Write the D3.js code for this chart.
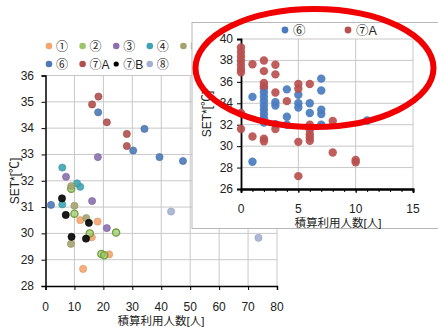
<!DOCTYPE html>
<html>
<head>
<meta charset="utf-8">
<script src="https://cdn.jsdelivr.net/npm/d3@7"></script>
<style>
  html, body { margin: 0; padding: 0; background: #fff; }
  svg { display: block; font-family: "Liberation Sans", Arial, "Noto Sans CJK JP", sans-serif; }
  .grid line { stroke: #c8c8c8; stroke-width: 1px; }
  .axis path, .axis line { stroke: #000; }
  .tick-label { font-size: 12px; fill: #222; }
</style>
</head>
<body>
<div id="chart"></div>
<script>
// --- data: main chart (全体) ---
const seriesNames = ["①", "②", "③", "④", "⑤", "⑥", "⑦A", "⑦B", "⑧"];
const seriesColors = ["#f4a56e", "#9cc46a", "#8a70ae", "#3fa3b3", "#a3a36e", "#4d79b7", "#b0504e", "#000000", "#a3b0d2"];

const pts1 = [[12, 30.5], [18, 30.45], [16, 29.85], [22, 29.2], [13, 28.65]];
const pts2 = [[10, 30.75], [24.4, 30.03], [15.3, 30.0], [19.3, 29.22], [20.3, 29.17], [8.9, 31.7]];
const pts3 = [[18.1, 32.9], [7.1, 32.15], [16.1, 31.23], [21.2, 30.2]];
const pts4 = [[5.8, 32.5], [5.8, 31.1], [12, 31.77], [10.9, 31.9]];
const pts5 = [[8.9, 31.8], [10, 31.05], [14.1, 30.58], [8.8, 29.6]];
const pts6 = [[18.2, 34.6], [34.2, 33.97], [30.3, 33.15], [39.4, 32.9], [47.5, 32.75], [1.9, 31.08]];
const pts7A = [[18.3, 35.2], [16.1, 34.9], [21.2, 34.22], [28.1, 33.78], [28.1, 33.32]];
const pts7B = [[5.7, 31.33], [7, 30.7], [15, 30.4], [9, 29.87], [14, 29.8]];
const pts8 = [[43.4, 30.83], [73.6, 29.83]];
const allSeries = [pts1, pts2, pts3, pts4, pts5, pts6, pts7A, pts7B, pts8];

const xTicksMain = [0, 10, 20, 30, 40, 50, 60, 70, 80];
const yTicksMain = [28, 29, 30, 31, 32, 33, 34, 35, 36];

// --- data: inset (⑥ と ⑦A) ---
const insetNames = ["⑥", "⑦A"];
const inset6 = [
  [1, 34.6], [1, 28.55],
  [2, 35.4], [2, 35.0], [2, 34.6], [2, 34.2], [2, 33.8], [2, 33.4], [2, 33.0], [2, 32.6], [2, 32.2],
  [3, 34.1], [3, 33.8], [3, 32.05],
  [4, 35.3], [4, 32.75], [4, 32.0],
  [5, 34.8], [5, 34.0], [5, 33.6],
  [6, 34.0], [6, 33.1],
  [7, 36.3], [7, 35.2], [7, 33.4], [7, 33.0], [7, 32.0],
  [11, 32.4]
];
const inset7A = [
  [0, 39.2], [0, 38.8], [0, 38.4], [0, 38.0], [0, 37.6], [0, 37.2], [0, 36.9], [0, 33.1], [0, 31.6],
  [1, 37.65], [1, 30.9],
  [2, 38.0], [2, 37.0], [2, 35.9], [2, 35.6], [2, 30.7], [2, 30.45],
  [3, 37.6], [3, 36.7], [3, 35.0], [3, 31.6],
  [4, 34.2],
  [5, 35.8], [5, 35.35], [5, 30.4], [5, 27.2],
  [6, 35.8], [6, 32.0], [6, 31.5], [6, 31.1], [6, 30.8], [6, 30.5],
  [8, 32.35], [8, 29.4],
  [10, 28.7], [10, 28.5]
];
const insetColors = ["#4a7cbf", "#b9504f"];
const xTicksInset = [0, 5, 10, 15];
const yTicksInset = [26, 28, 30, 32, 34, 36, 38, 40];

const W = 438, H = 327;
const svg = d3.select("#chart").append("svg").attr("width", W).attr("height", H);

// ---------- main chart ----------
const x = d3.scaleLinear().domain([0, 80]).range([45.5, 277]);
const y = d3.scaleLinear().domain([28, 36]).range([286, 75.5]);

const gMain = svg.append("g");
const grid = gMain.append("g").attr("class", "grid");
grid.selectAll(".gx").data(xTicksMain.slice(1)).enter().append("line")
  .attr("x1", d => x(d)).attr("x2", d => x(d)).attr("y1", y(28)).attr("y2", y(36));
grid.selectAll(".gy").data(yTicksMain.slice(1)).enter().append("line")
  .attr("x1", x(0)).attr("x2", x(80)).attr("y1", d => y(d)).attr("y2", d => y(d));

gMain.append("g").attr("class", "axis")
  .attr("transform", `translate(0,${y(28)})`)
  .call(d3.axisBottom(x).tickValues(xTicksMain).tickSize(4).tickFormat(""));
gMain.append("g").attr("class", "axis")
  .attr("transform", `translate(${x(0)},0)`)
  .call(d3.axisLeft(y).tickValues(yTicksMain).tickSize(4).tickFormat(""));
gMain.selectAll(".axis path").attr("stroke-width", 1.5);

gMain.selectAll(".xl").data(xTicksMain).enter().append("text")
  .attr("class", "tick-label").attr("text-anchor", "middle")
  .attr("x", d => x(d)).attr("y", 311).text(d => d);
gMain.selectAll(".yl").data(yTicksMain).enter().append("text")
  .attr("class", "tick-label").attr("text-anchor", "end")
  .attr("x", 34).attr("y", d => y(d) + 4).text(d => d);

gMain.append("text").attr("x", 161).attr("y", 325).attr("text-anchor", "middle")
  .style("font-size", "11.5px").style("fill", "#222").text("積算利用人数[人]");
gMain.append("text").attr("transform", "translate(19,181) rotate(-90)")
  .attr("text-anchor", "middle").style("font-size", "12px").style("fill", "#222").text("SET*[℃]");

allSeries.forEach((pts, i) => {
  gMain.append("g").selectAll("circle").data(pts).enter().append("circle")
    .attr("cx", d => x(d[0])).attr("cy", d => y(d[1]))
    .attr("r", 3.6)
    .attr("fill", seriesColors[i])
    .attr("fill-opacity", i === 1 ? 0.7 : 0.9)
    .attr("stroke", i === 1 ? "#6fa03a" : d3.color(seriesColors[i]).darker(0.3))
    .attr("stroke-width", i === 1 ? 1.3 : 0.6);
});

// legend
const legend = gMain.append("g").style("font-size", "12px");
seriesNames.forEach((name, i) => {
  const row = i < 5 ? 0 : 1;
  const col = i < 5 ? i : i - 5;
  const lx = 49 + col * 33.6, ly = row === 0 ? 46 : 64;
  legend.append("circle").attr("cx", lx).attr("cy", ly)
    .attr("r", i === 7 ? 2.6 : 3.3).attr("fill", seriesColors[i]);
  legend.append("text").attr("x", lx + 7).attr("y", ly + 4.5)
    .style("fill", "#222").text(name);
});

// ---------- inset chart ----------
const gIn = svg.append("g");
gIn.append("rect").attr("x", 192).attr("y", 22.5).attr("width", 260).attr("height", 206)
  .attr("fill", "#fff").attr("stroke", "#b8b8b8").attr("stroke-width", 1);

const xi = d3.scaleLinear().domain([0, 15]).range([241, 413]);
const yi = d3.scaleLinear().domain([26, 40]).range([189, 39]);

const gridIn = gIn.append("g").attr("class", "grid");
gridIn.selectAll(".gx").data(xTicksInset.slice(1)).enter().append("line")
  .attr("x1", d => xi(d)).attr("x2", d => xi(d)).attr("y1", yi(26)).attr("y2", yi(40));
gridIn.selectAll(".gy").data(yTicksInset.slice(1)).enter().append("line")
  .attr("x1", xi(0)).attr("x2", xi(15)).attr("y1", d => yi(d)).attr("y2", d => yi(d));

gIn.append("g").attr("class", "axis")
  .attr("transform", `translate(0,${yi(26)})`)
  .call(d3.axisBottom(xi).ticks(15).tickSize(3).tickFormat(""));
gIn.append("g").attr("class", "axis")
  .attr("transform", `translate(0,${yi(26)})`)
  .call(d3.axisBottom(xi).tickValues(xTicksInset).tickSize(4).tickFormat(""));
gIn.append("g").attr("class", "axis")
  .attr("transform", `translate(${xi(0)},0)`)
  .call(d3.axisLeft(yi).tickValues(yTicksInset).tickSize(4).tickFormat(""));
gIn.selectAll(".axis path").attr("stroke-width", 1.8);

gIn.selectAll(".xl").data(xTicksInset).enter().append("text")
  .attr("class", "tick-label").attr("text-anchor", "middle")
  .attr("x", d => xi(d)).attr("y", 213).text(d => d);
gIn.selectAll(".yl").data(yTicksInset).enter().append("text")
  .attr("class", "tick-label").attr("text-anchor", "end")
  .attr("x", 233).attr("y", d => yi(d) + 4).text(d => d);

gIn.append("text").attr("x", 338).attr("y", 227).attr("text-anchor", "middle")
  .style("font-size", "11.5px").style("fill", "#222").text("積算利用人数[人]");
gIn.append("text").attr("transform", "translate(211,114) rotate(-90)")
  .attr("text-anchor", "middle").style("font-size", "12px").style("fill", "#222").text("SET*[℃]");

[inset6, inset7A].forEach((pts, i) => {
  gIn.append("g").selectAll("circle").data(pts).enter().append("circle")
    .attr("cx", d => xi(d[0])).attr("cy", d => yi(d[1]))
    .attr("r", 4.2).attr("fill", insetColors[i]).attr("fill-opacity", 0.92);
});

const legIn = gIn.append("g").style("font-size", "12.5px");
insetNames.forEach((name, i) => {
  const lx = 285 + i * 63;
  legIn.append("circle").attr("cx", lx).attr("cy", 30).attr("r", 3.4).attr("fill", insetColors[i]);
  legIn.append("text").attr("x", lx + 8).attr("y", 34.5).style("fill", "#222").text(name);
});

// ---------- red highlight ellipse ----------
svg.append("ellipse")
  .attr("cx", 314.5).attr("cy", 68).attr("rx", 119).attr("ry", 59)
  .attr("fill", "none").attr("stroke", "#f00000").attr("stroke-width", 6);
</script>
</body>
</html>
